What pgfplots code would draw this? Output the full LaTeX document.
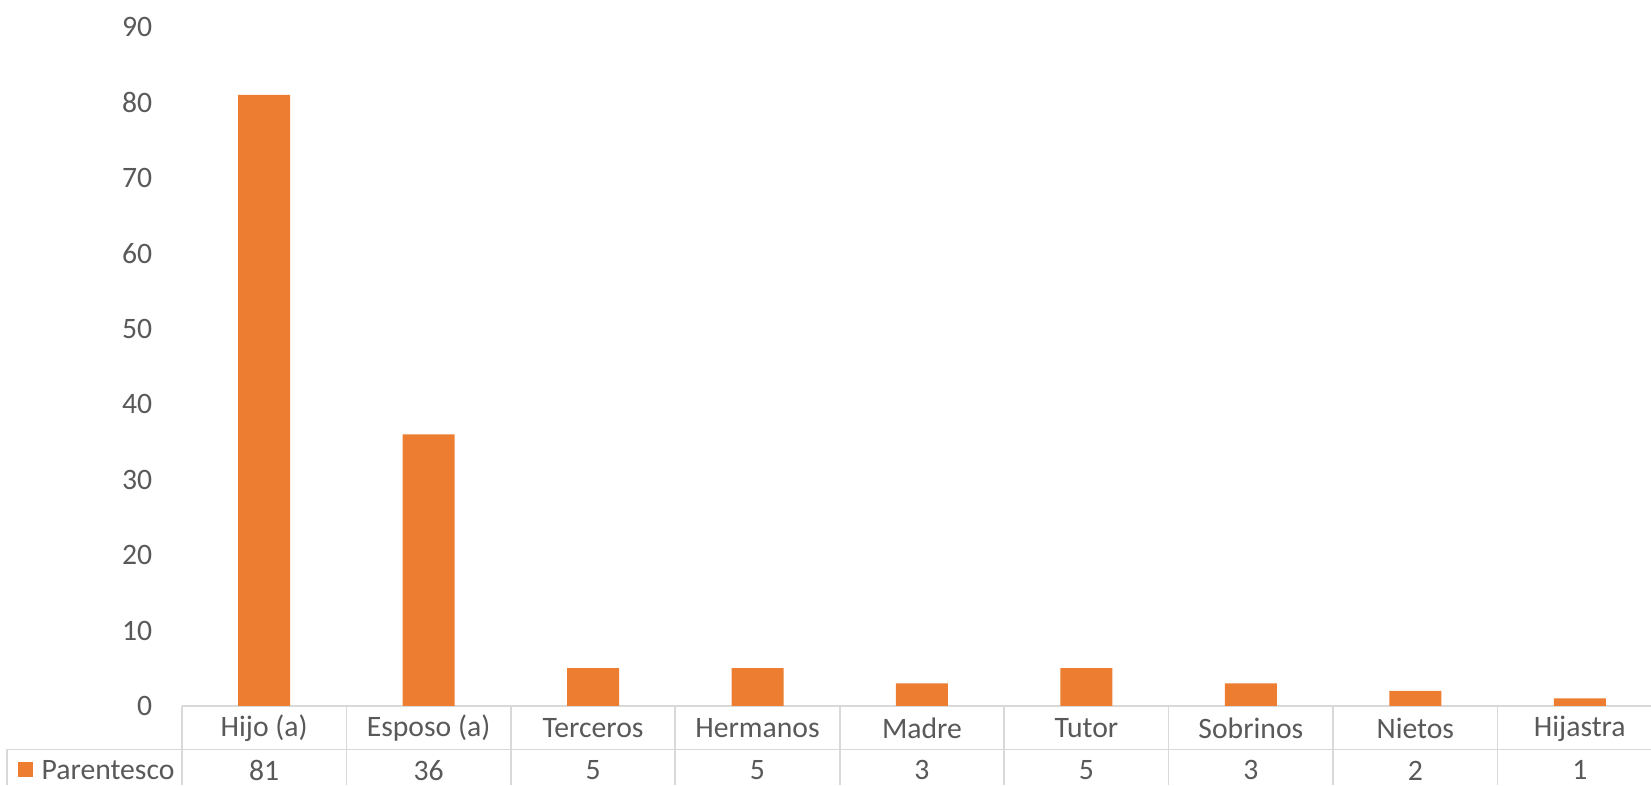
\documentclass[border=0pt]{standalone}
\usepackage{fontspec}
\setmainfont{Carlito}
\usepackage{pgfplots}
\usepackage{pgfplotstable}
\pgfplotsset{compat=1.18}
\definecolor{barorange}{HTML}{ED7D31}
\definecolor{txtgray}{HTML}{595959}
\definecolor{linegray}{HTML}{D9D9D9}

\pgfplotstableread{
cat value
{Hijo (a)} 81
{Esposo (a)} 36
{Terceros} 5
{Hermanos} 5
{Madre} 3
{Tutor} 5
{Sobrinos} 3
{Nietos} 2
{Hijastra} 1
}\datatable

\begin{document}
\begin{tikzpicture}
\begin{axis}[
  scale only axis,
  width=440.7pt, height=203.7pt,
  xmin=-0.5, xmax=8.433,
  ymin=0, ymax=90,
  ytick={0,10,...,90},
  xtick={0,...,8},
  xticklabels from table={\datatable}{cat},
  axis line style={draw=none},
  tick style={draw=none},
  major tick length=0pt,
  clip=false,
  font=\fontsize{8.9pt}{10pt}\selectfont,
  tick label style={text=txtgray, font=\fontsize{8.9pt}{10pt}\selectfont},
  /pgf/number format/assume math mode=true,
  yticklabel style={anchor=east, inner sep=0pt, xshift=-8.7pt},
  xticklabel style={anchor=center, inner sep=0pt, yshift=-6.75pt},
]
% table grid
\draw[linegray, line width=0.5pt] (axis cs:-0.5,0) -- (axis cs:8.433,0);
\draw[linegray, line width=0.5pt] (axis cs:-1.562,-5.77) -- (axis cs:8.433,-5.77);
\draw[linegray, line width=0.5pt] (axis cs:-1.562,-5.77) -- (axis cs:-1.562,-10.54);
\pgfplotsinvokeforeach{-0.5,0.5,1.5,2.5,3.5,4.5,5.5,6.5,7.5}{
  \draw[linegray, line width=0.5pt] (axis cs:#1,0) -- (axis cs:#1,-10.54);
}
\addplot[ybar, bar width=15.6pt, fill=barorange, draw=none]
  table[x expr=\coordindex, y=value]{\datatable};
\addplot[draw=none, mark=none, nodes near coords,
  point meta=explicit,
  every node near coord/.append style={anchor=center, inner sep=0pt, text=txtgray,
     font=\fontsize{8.9pt}{10pt}\selectfont, /pgf/number format/assume math mode=true}]
  table[x expr=\coordindex, y expr=-8.55, meta=value]{\datatable};
% legend key in table
\fill[barorange] (axis cs:-1.498,-7.49) rectangle (axis cs:-1.407,-9.48);
\node[anchor=west, inner sep=0pt, text=txtgray] at (axis cs:-1.357,-8.55) {Parentesco};
\coordinate (bbA) at (axis cs:-1.606,-10.54);
\coordinate (bbB) at (axis cs:8.433,93.57);
\end{axis}
\pgfresetboundingbox
\path[use as bounding box] (bbA) rectangle (bbB);
\end{tikzpicture}
\end{document}
